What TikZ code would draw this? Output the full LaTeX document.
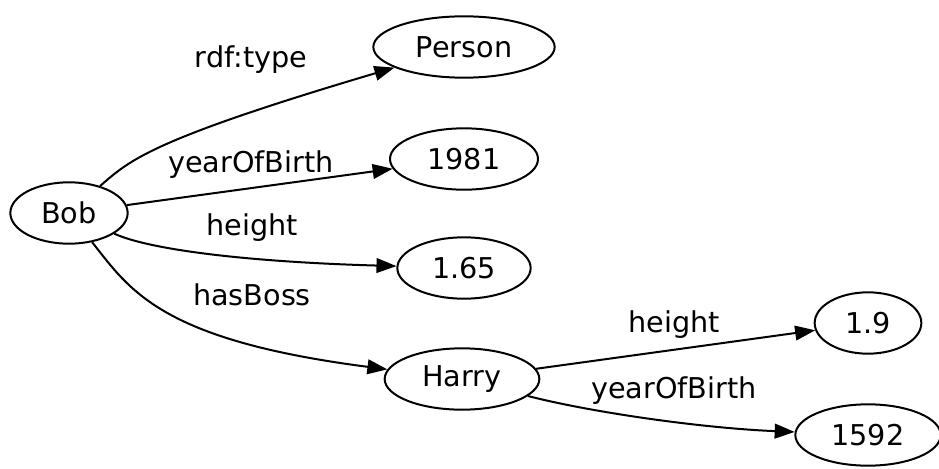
\documentclass[tikz,border=0pt]{standalone}
\usepackage{fontspec}
\setmainfont{DejaVu Sans}
\usetikzlibrary{arrows.meta}
\usetikzlibrary{shapes.geometric}
\tikzset{
	res/.style={draw=black, ellipse, line width=1.5pt, inner sep=0pt, font=\fontsize{21.5}{25}\selectfont},
	prop/.style={draw=black, line width=1.5pt, -{Triangle[length=15pt,width=11pt]}},
	lbl/.style={font=\fontsize{21.5}{25}\selectfont, inner sep=0pt},
}
\begin{document}
\begin{tikzpicture}[x=0.75pt, y=-0.75pt]
		\useasboundingbox (0,0) rectangle (939,468);
		% Subject
		\node [res, minimum width=88pt, minimum height=46pt] (bob) at (69,213) {Bob};
		% Objects of Bob
		\node [res, minimum width=136pt, minimum height=46pt] (person) at (464,47) {Person};
		\node [res, minimum width=111pt, minimum height=46pt] (yob) at (464,159) {1981};
		\node [res, minimum width=100pt, minimum height=46pt] (hgt) at (464,268) {1.65};
		\node [res, minimum width=116pt, minimum height=46pt] (harry) at (462,379) {Harry};
		% Objects of Harry
		\node [res, minimum width=80pt, minimum height=46pt] (hgtb) at (868,323) {1.9};
		\node [res, minimum width=109pt, minimum height=46pt] (yobb) at (868,435) {1592};
		% Edges from Bob
		\draw [prop] (bob) .. controls (130,160) and (150,140) .. (person);
		\draw [prop] (bob) -- (yob);
		\draw [prop] (bob) .. controls (150,250) and (250,262) .. (hgt);
		\draw [prop] (bob) .. controls (130,290) and (160,340) .. (harry);
		% Edges from Harry
		\draw [prop] (harry) -- (hgtb);
		\draw [prop] (harry) .. controls (590,412) and (700,428) .. (yobb);
		% Labels
		\node [lbl] (l1) at (251,60) {rdf:type};
		\node [lbl] (l2) at (251,165) {yearOfBirth};
		\node [lbl] (l3) at (252,228) {height};
		\node [lbl] (l4) at (252,295) {hasBoss};
		\node [lbl] (l5) at (674,325) {height};
		\node [lbl] (l6) at (674,391) {yearOfBirth};
\end{tikzpicture}
\end{document}
